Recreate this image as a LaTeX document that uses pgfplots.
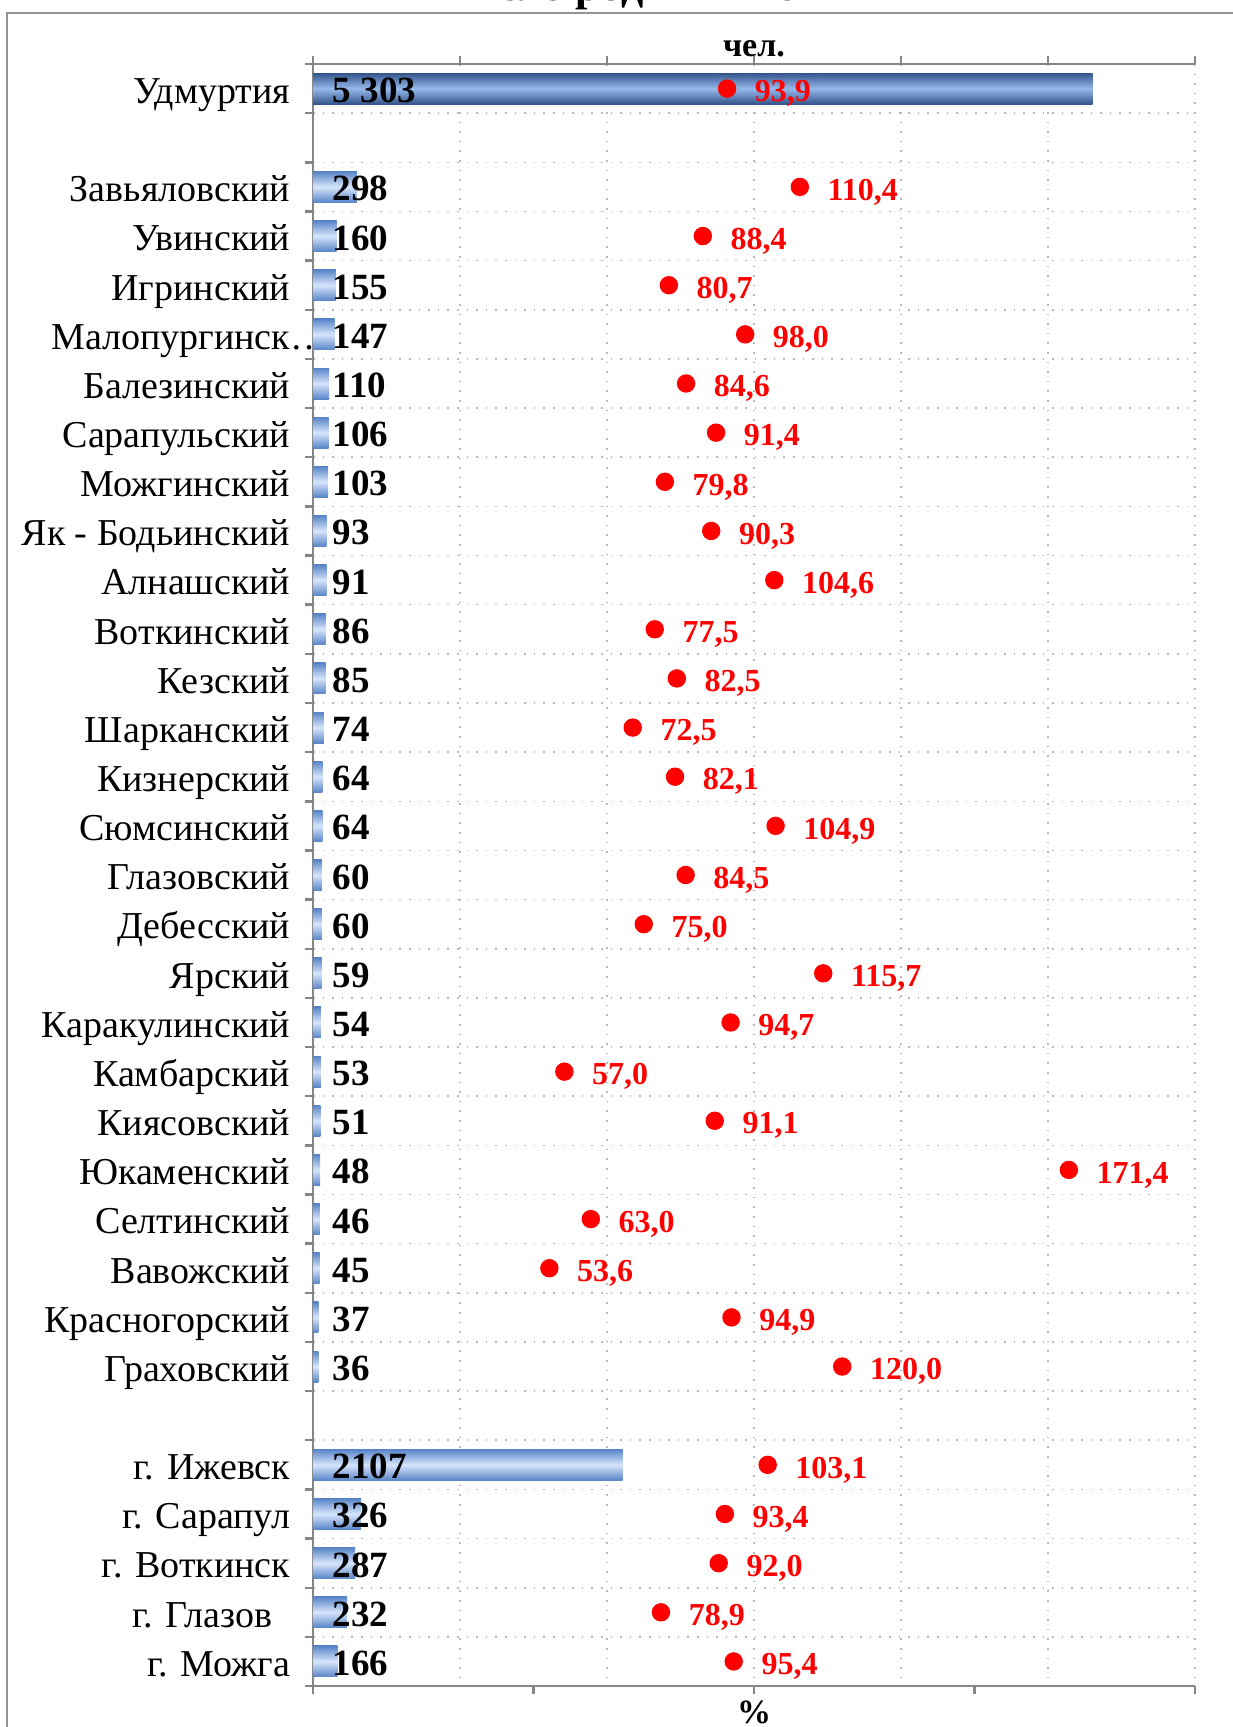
\documentclass[border=0pt]{standalone}
\usepackage{fontspec}
\setmainfont{Liberation Serif}
\usepackage{pgfplots}
\pgfplotsset{compat=1.18}
\usepackage{pgfplotstable}

\definecolor{axisgray}{RGB}{134,134,134}
\definecolor{gridgray}{RGB}{185,185,185}
\definecolor{bardark}{RGB}{52,85,140}
\definecolor{barmid}{RGB}{150,185,235}
\definecolor{baredge}{RGB}{88,132,200}
\definecolor{barlight}{RGB}{214,229,251}

\pgfplotsset{
  barU/.style={xbar, bar shift=0pt, bar width=7.75pt, draw=none, top color=bardark, bottom color=bardark, middle color=barmid},
  barB/.style={xbar, bar shift=0pt, bar width=7.75pt, draw=none, top color=baredge, bottom color=baredge, middle color=barlight},
}

\pgfplotstableread[col sep=semicolon]{
row;cnt;pct;z;cl;pl
0;5303;93.9;0;5 303;93,9
2;298;110.4;0;298;110,4
3;160;88.4;0;160;88,4
4;155;80.7;0;155;80,7
5;147;98.0;0;147;98,0
6;110;84.6;0;110;84,6
7;106;91.4;0;106;91,4
8;103;79.8;0;103;79,8
9;93;90.3;0;93;90,3
10;91;104.6;0;91;104,6
11;86;77.5;0;86;77,5
12;85;82.5;0;85;82,5
13;74;72.5;0;74;72,5
14;64;82.1;0;64;82,1
15;64;104.9;0;64;104,9
16;60;84.5;0;60;84,5
17;60;75.0;0;60;75,0
18;59;115.7;0;59;115,7
19;54;94.7;0;54;94,7
20;53;57.0;0;53;57,0
21;51;91.1;0;51;91,1
22;48;171.4;0;48;171,4
23;46;63.0;0;46;63,0
24;45;53.6;0;45;53,6
25;37;94.9;0;37;94,9
26;36;120.0;0;36;120,0
28;2107;103.1;0;2107;103,1
29;326;93.4;0;326;93,4
30;287;92.0;0;287;92,0
31;232;78.9;0;232;78,9
32;166;95.4;0;166;95,4
}\data

\begin{document}
\begin{tikzpicture}
\useasboundingbox (0,0) rectangle (308.25pt,431.75pt);
\draw[axisgray!90, line width=0.55pt] (1.75pt,-20pt) -- (1.75pt,428.5pt) -- (340pt,428.5pt);
\node[anchor=base, inner sep=0pt, font=\bfseries\fontsize{11}{13}\selectfont] at (157.5pt,431.5pt) {Число родившихся};

\begin{axis}[
  at={(78.25pt,10.25pt)}, anchor=south west,
  scale only axis, width=220.5pt, height=405.5pt,
  xmin=0, xmax=6000, ymin=-0.5, ymax=32.5, y dir=reverse,
  axis x line*=top, axis y line*=left,
  axis line style={axisgray, line width=0.6pt},
  xtick={0,1000,...,6000}, xticklabels={},
  ytick={-0.5,0.5,...,32.5}, yticklabels={},
  tick align=outside, major tick length=2pt,
  tick style={axisgray, line width=0.6pt},
  xmajorgrids, ymajorgrids,
  major grid style={gridgray, dotted, line width=0.4pt},
  extra y ticks={0,2,3,...,26,28,29,30,31,32},
  extra y tick labels={Удмуртия,Завьяловский,Увинский,Игринский,Малопургинск\rlap{…},Балезинский,Сарапульский,Можгинский,Як - Бодьинский,Алнашский,Воткинский,Кезский,Шарканский,Кизнерский,Сюмсинский,Глазовский,Дебесский,Ярский,Каракулинский,Камбарский,Киясовский,Юкаменский,Селтинский,Вавожский,Красногорский,Граховский,г. Ижевск,г. Сарапул,г. Воткинск,г. Глазов\hspace*{4.5pt},г. Можга},
  extra y tick style={major tick length=0pt, grid=none, tick style={draw=none},
    yticklabel style={anchor=base east, inner sep=0pt, xshift=-5.5pt, yshift=-3.7pt, font=\fontsize{9.5}{11}\selectfont}},
  xlabel={чел.},
  xlabel style={at={(axis description cs:0.5,1)}, anchor=base, inner sep=0pt, yshift=2pt, font=\bfseries\fontsize{8.5}{10}\selectfont},
  clip=false,
]
\addplot[barU] coordinates {(5303,0)};
\addplot[barB] coordinates {(298,2)};
\addplot[barB] coordinates {(160,3)};
\addplot[barB] coordinates {(155,4)};
\addplot[barB] coordinates {(147,5)};
\addplot[barB] coordinates {(110,6)};
\addplot[barB] coordinates {(106,7)};
\addplot[barB] coordinates {(103,8)};
\addplot[barB] coordinates {(93,9)};
\addplot[barB] coordinates {(91,10)};
\addplot[barB] coordinates {(86,11)};
\addplot[barB] coordinates {(85,12)};
\addplot[barB] coordinates {(74,13)};
\addplot[barB] coordinates {(64,14)};
\addplot[barB] coordinates {(64,15)};
\addplot[barB] coordinates {(60,16)};
\addplot[barB] coordinates {(60,17)};
\addplot[barB] coordinates {(59,18)};
\addplot[barB] coordinates {(54,19)};
\addplot[barB] coordinates {(53,20)};
\addplot[barB] coordinates {(51,21)};
\addplot[barB] coordinates {(48,22)};
\addplot[barB] coordinates {(46,23)};
\addplot[barB] coordinates {(45,24)};
\addplot[barB] coordinates {(37,25)};
\addplot[barB] coordinates {(36,26)};
\addplot[barB] coordinates {(2107,28)};
\addplot[barB] coordinates {(326,29)};
\addplot[barB] coordinates {(287,30)};
\addplot[barB] coordinates {(232,31)};
\addplot[barB] coordinates {(166,32)};
\addplot[draw=none, mark=none, nodes near coords, point meta=explicit symbolic,
  nodes near coords style={anchor=base west, inner sep=0pt, xshift=4.75pt, yshift=-3.5pt, text=black, font=\bfseries\fontsize{9.25}{11}\selectfont}]
  table[x=z, y=row, meta=cl] {\data};
\end{axis}

\begin{axis}[
  at={(78.25pt,10.25pt)}, anchor=south west,
  scale only axis, width=220.5pt, height=405.5pt,
  xmin=0, xmax=200, ymin=-0.5, ymax=32.5, y dir=reverse,
  axis x line*=bottom, axis y line=none,
  axis line style={axisgray, line width=0.6pt},
  xtick={0,50,...,200}, xticklabels={},
  tick align=outside, major tick length=2pt,
  tick style={axisgray, line width=0.6pt},
  xlabel={\%},
  xlabel style={at={(axis description cs:0.5,0)}, anchor=north, inner sep=0pt, yshift=-3.5pt, font=\bfseries\fontsize{8.5}{10}\selectfont},
  clip=false,
]
\addplot[only marks, mark=*, mark size=2.1pt, color=red, nodes near coords, point meta=explicit symbolic,
  nodes near coords style={anchor=base west, inner sep=0pt, xshift=6.75pt, yshift=-3.3pt, text=red, font=\bfseries\fontsize{8}{10}\selectfont}]
  table[x=pct, y=row, meta=pl] {\data};
\end{axis}
\end{tikzpicture}
\end{document}
